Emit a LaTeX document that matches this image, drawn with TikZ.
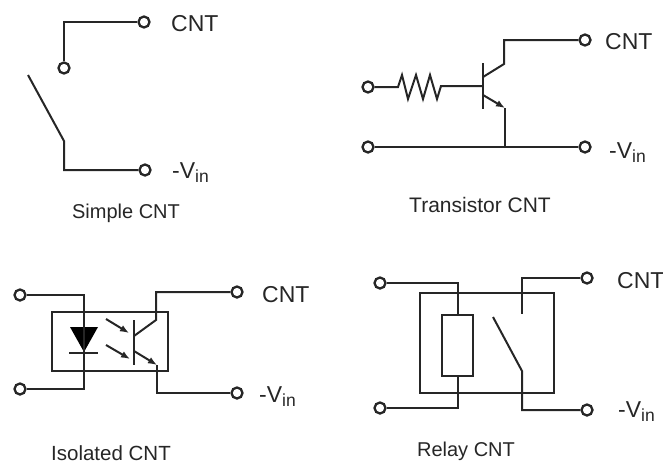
\documentclass[tikz,border=0pt]{standalone}
\usepackage{fontspec}
\setmainfont{Liberation Sans}
\usetikzlibrary{arrows.meta}
\newcommand{\vinlabel}{-V\raisebox{-4.5pt}{\fontsize{17.5}{17.5}\selectfont in}}
\tikzset{
  wire/.style={line width=2pt,color=black!85,line join=miter},
  term/.style={circle,draw=black!85,line width=2.3pt,minimum size=11pt,inner sep=0pt,fill=white},
  lbl/.style={anchor=base west,inner sep=0pt,font=\fontsize{23}{23}\selectfont,text=black!85},
  captext/.style={anchor=base,inner sep=0pt,text=black!85},
  arrowtip/.style={-{Latex[length=9pt,width=7pt]}}
}
\begin{document}
\begin{tikzpicture}[x=1pt,y=-1pt]
\useasboundingbox (0,0) rectangle (663,464);
% ---- Simple
\node[term] (s1) at (144,22) {};
\node[term] (s2) at (64,68) {};
\node[term] (s3) at (145,170) {};
\coordinate (sa) at (28,75);
\coordinate (sb) at (64,141);
\node[lbl] (sc) at (171,31) {CNT};
\node[lbl] (sv) at (172,178) {\vinlabel};
\node[captext,font=\fontsize{20}{20}\selectfont] (st) at (126,218) {Simple CNT};
\draw[wire] (s2.north) |- (s1.west);
\draw[wire] (sa) -- (sb) |- (s3.west);
% ---- Transistor
\node[term] (t1) at (368,87) {};
\node[term] (t2) at (585,40) {};
\node[term] (t3) at (368,147) {};
\node[term] (t4) at (585,147) {};
\coordinate (tb1) at (483,63);
\coordinate (tb2) at (483,109);
\coordinate (tbase) at (483,86);
\coordinate (tcs) at (483,77);
\coordinate (tce) at (504,64);
\coordinate (tes) at (483,95);
\coordinate (tee) at (505,108);
\coordinate (tj) at (505,147);
\node[lbl] (tc) at (605,49) {CNT};
\node[lbl] (tv) at (609,158) {\vinlabel};
\node[captext,font=\fontsize{21}{21}\selectfont] (tt) at (480,212) {Transistor CNT};
\draw[wire] (t1.east) -- (398,87) -- (402,75) -- (408,99) -- (416,75) -- (423,99) -- (430,75) -- (437,99) -- (441,86) -- (tbase);
\draw[wire] (tb1) -- (tb2);
\draw[wire] (tcs) -- (tce) |- (t2.west);
\draw[wire,arrowtip] (tes) -- (tee);
\draw[wire] (tee) -- (tj);
\draw[wire] (t3.east) -- (t4.west);
% ---- Isolated
\node[term] (i1) at (20,295) {};
\node[term] (i2) at (20,389) {};
\node[term] (i3) at (237,292) {};
\node[term] (i4) at (237,393) {};
\node[draw=black!85,line width=2pt,minimum width=116pt,minimum height=59pt,inner sep=0pt] (ibox) at (110,341.5) {};
\coordinate (ic1) at (84,295);
\coordinate (ic2) at (84,389);
\fill[black] (70,327) -- (98,327) -- (84,352) -- cycle;
\draw[wire] (69,353) -- (98,353);
\draw[wire] (i1.east) -- (ic1) -- (ic2) -- (i2.east);
\coordinate (ib1) at (134,320);
\coordinate (ib2) at (134,365);
\coordinate (ics) at (134,336);
\coordinate (ice) at (156,320);
\coordinate (ies) at (134,351);
\coordinate (iee) at (157,365);
\draw[wire] (ib1) -- (ib2);
\draw[wire] (ics) -- (ice) |- (i3.west);
\draw[wire,arrowtip] (ies) -- (iee);
\draw[wire] (iee) |- (i4.west);
\coordinate (ia1) at (106,319);
\coordinate (ia2) at (129,333);
\coordinate (ia3) at (106,345);
\coordinate (ia4) at (130,359);
\draw[wire,arrowtip] (ia1) -- (ia2);
\draw[wire,arrowtip] (ia3) -- (ia4);
\node[lbl] (ic) at (262,302) {CNT};
\node[lbl] (iv) at (259,402) {\vinlabel};
\node[captext,font=\fontsize{20.5}{20.5}\selectfont] (it) at (111,460) {Isolated CNT};
% ---- Relay
\node[term] (r1) at (380,283) {};
\node[term] (r2) at (380,408) {};
\node[term] (r3) at (587,278) {};
\node[term] (r4) at (587,410) {};
\node[draw=black!85,line width=2pt,minimum width=134pt,minimum height=100pt,inner sep=0pt] (rbox) at (487,343) {};
\node[draw=black!85,line width=2pt,minimum width=31pt,minimum height=61pt,inner sep=0pt] (coil) at (457.5,345.5) {};
\draw[wire] (r1.east) -| (coil.north);
\draw[wire] (coil.south) |- (r2.east);
\coordinate (rc) at (522,314);
\coordinate (rs1) at (493,317);
\coordinate (rs2) at (522,371);
\draw[wire] (r3.west) -| (rc);
\draw[wire] (rs1) -- (rs2) |- (r4.west);
\node[lbl] (rl) at (617,288) {CNT};
\node[lbl] (rv) at (618,417) {\vinlabel};
\node[captext,font=\fontsize{20}{20}\selectfont] (rt) at (466,456) {Relay CNT};
\end{tikzpicture}
\end{document}
